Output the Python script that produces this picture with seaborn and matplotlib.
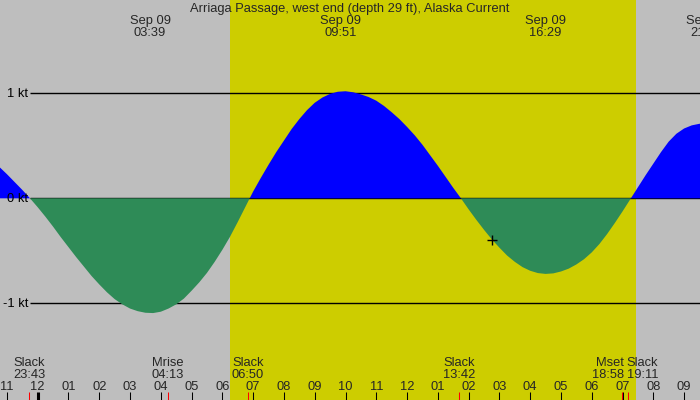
import numpy as np
import pandas as pd
import matplotlib
matplotlib.use("Agg")
import matplotlib.pyplot as plt
import seaborn as sns

# heures depuis minuit (Sep 09) et courant en noeuds (pas de 15 min)
heures = [-1.5, -1.25, -1.0, -0.75, -0.5, -0.25, 0.0, 0.25, 0.5, 0.75, 1.0, 1.25,
          1.5, 1.75, 2.0, 2.25, 2.5, 2.75, 3.0, 3.25, 3.5, 3.75, 4.0, 4.25,
          4.5, 4.75, 5.0, 5.25, 5.5, 5.75, 6.0, 6.25, 6.5, 6.75, 7.0, 7.25,
          7.5, 7.75, 8.0, 8.25, 8.5, 8.75, 9.0, 9.25, 9.5, 9.75, 10.0, 10.25,
          10.5, 10.75, 11.0, 11.25, 11.5, 11.75, 12.0, 12.25, 12.5, 12.75, 13.0, 13.25,
          13.5, 13.75, 14.0, 14.25, 14.5, 14.75, 15.0, 15.25, 15.5, 15.75, 16.0, 16.25,
          16.5, 16.75, 17.0, 17.25, 17.5, 17.75, 18.0, 18.25, 18.5, 18.75, 19.0, 19.25,
          19.5, 19.75, 20.0, 20.25, 20.5, 20.75, 21.0, 21.25, 21.5, 21.75, 22.0]
courant = [0.37, 0.30, 0.23, 0.155, 0.08, 0.0, -0.085, -0.175, -0.27, -0.37, -0.465, -0.56,
           -0.65, -0.74, -0.82, -0.895, -0.96, -1.01, -1.05, -1.075, -1.09, -1.093, -1.08, -1.05,
           -1.01, -0.955, -0.88, -0.80, -0.71, -0.605, -0.49, -0.365, -0.225, -0.08, 0.065, 0.195,
           0.32, 0.44, 0.55, 0.66, 0.755, 0.84, 0.91, 0.96, 0.995, 1.015, 1.02, 1.01,
           0.99, 0.965, 0.93, 0.88, 0.82, 0.755, 0.68, 0.60, 0.51, 0.41, 0.31, 0.205,
           0.10, 0.0, -0.105, -0.205, -0.30, -0.39, -0.47, -0.545, -0.605, -0.655, -0.69, -0.712,
           -0.72, -0.715, -0.697, -0.67, -0.63, -0.58, -0.515, -0.435, -0.34, -0.235, -0.125, -0.01,
           0.105, 0.22, 0.33, 0.44, 0.54, 0.615, 0.665, 0.695, 0.71, 0.715, 0.71]

titre = "Arriaga Passage, west end (depth 29 ft), Alaska Current"

# maxima (en haut)
max_heures = [3.65, 9.85, 16.483, 21.73]
max_dates = ["Sep 09", "Sep 09", "Sep 09", "Sep 09"]
max_labels = ["03:39", "09:51", "16:29", "21:44"]

# événements (en bas)
evt_heures = [-0.283, 4.217, 6.833, 13.7, 18.967, 19.183]
evt_noms = ["Slack", "Mrise", "Slack", "Slack", "Mset", "Slack"]
evt_labels = ["23:43", "04:13", "06:50", "13:42", "18:58", "19:11"]

# jour
lever, coucher = 6.248, 19.437

# graduations horaires
tick_heures = list(range(-1, 22))
tick_labels = ["11", "12", "01", "02", "03", "04", "05", "06", "07", "08", "09", "10",
               "11", "12", "01", "02", "03", "04", "05", "06", "07", "08", "09"]

niveaux = [1, 0, -1]
niveaux_labels = ["1 kt", "0 kt", "-1 kt"]

curseur = (14.77, -0.397)

df = pd.DataFrame({"heure": heures, "kt": courant})

sns.set_theme(style="white")
plt.rcParams["font.family"] = ["Liberation Sans", "DejaVu Sans"]

GRIS = "#BEBEBE"
JAUNE = "#CDCD00"
BLEU = "#0000FF"
VERT = "#2E8B57"
FS = 9.3

fig = plt.figure(figsize=(7, 4), dpi=100, facecolor=GRIS)
ax = fig.add_axes([0, 0, 1, 1])
ax.set_facecolor(GRIS)
ax.set_xlim(-1.225, 21.517)
ax.set_ylim(-1.921, 1.889)
ax.axis("off")

ax.axvspan(lever, coucher, color=JAUNE, lw=0, zorder=0)

ax.hlines(niveaux, -0.25, 22, color="black", lw=1.0, zorder=1)
for niv, lab in zip(niveaux, niveaux_labels):
    ax.text(-0.315, niv - 0.038, lab, ha="right", va="baseline", fontsize=FS,
            color="black", zorder=6)

x = df["heure"].values
y = df["kt"].values
ax.fill_between(x, y, 0, where=y >= 0, interpolate=True, color=BLEU, lw=0, zorder=2)
ax.fill_between(x, y, 0, where=y <= 0, interpolate=True, color=VERT, lw=0, zorder=2)
sns.lineplot(data=df, x="heure", y="kt", ax=ax, lw=0, legend=False)

ax.plot([curseur[0]], [curseur[1]], marker="+", color="black", ms=6.5, mew=1, zorder=5)

trans = ax.get_xaxis_transform()
ax.text(0.5, 0.971, titre, transform=ax.transAxes, ha="center", va="baseline", fontsize=FS)
for h, d, lab in zip(max_heures, max_dates, max_labels):
    ax.text(h, 0.939, d, transform=trans, ha="center", va="baseline", fontsize=FS)
    ax.text(h, 0.911, lab, transform=trans, ha="center", va="baseline", fontsize=FS)

# étiquettes du bas, on écarte celles qui se chevauchent
n = len(evt_heures)
pos = list(evt_heures)
ha = ["center"] * n
for i in range(n - 1):
    if evt_heures[i + 1] - evt_heures[i] < 0.6:
        mil = (evt_heures[i] + evt_heures[i + 1]) / 2
        pos[i], pos[i + 1] = mil - 0.02, mil + 0.06
        ha[i], ha[i + 1] = "right", "left"
for p, a, nom, lab in zip(pos, ha, evt_noms, evt_labels):
    ax.text(p, 0.085, nom, transform=trans, ha=a, va="baseline", fontsize=FS)
    ax.text(p, 0.056, lab, transform=trans, ha=a, va="baseline", fontsize=FS)

ax.vlines(evt_heures, 0, 0.02, transform=trans, color="red", lw=0.75, zorder=3)
for h, lab in zip(tick_heures, tick_labels):
    lw = 2.2 if h == 0 else 0.75
    ax.vlines(h, 0, 0.02, transform=trans, color="black", lw=lw, zorder=4)
    ax.text(h, 0.025, lab, transform=trans, ha="center", va="baseline", fontsize=FS)

fig.savefig("out.png", dpi=100, facecolor=GRIS)
